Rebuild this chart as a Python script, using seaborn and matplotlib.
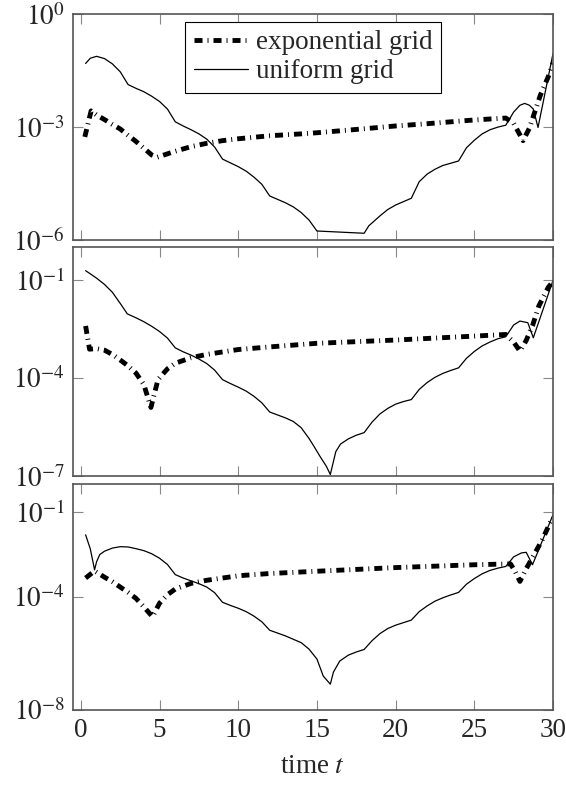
import numpy as np
import matplotlib
matplotlib.use("Agg")
import matplotlib.pyplot as plt
from matplotlib.ticker import NullLocator
import seaborn as sns

# error values, stored as log10 exponents
# top panel
t_exp_1 = [0.25, 0.65, 1.0, 1.5, 2.0, 2.5, 3.0, 3.5, 4.0, 4.5, 4.85, 5.5, 6.0, 7.0, 8.0, 9.0, 10.0,
           12.0, 14.0, 15.0, 17.0, 20.0, 22.0, 25.0, 27.0, 27.5, 28.1, 28.5, 29.2, 29.7, 30.0]
exp_1 = [-3.26, -2.57, -2.68, -2.80, -2.93, -3.05, -3.22, -3.38, -3.56, -3.74, -3.80, -3.71, -3.64,
         -3.52, -3.43, -3.36, -3.31, -3.23, -3.18, -3.15, -3.08, -2.97, -2.91, -2.81, -2.76, -2.90,
         -3.36, -3.03, -2.15, -1.66, -1.30]
t_uni_1 = [0.3, 0.6, 1.0, 1.5, 2.0, 2.5, 3.0, 3.5, 4.0, 4.5, 5.0, 5.5, 6.0, 6.5, 7.0, 7.5, 8.0, 8.5,
           9.0, 9.5, 10.0, 10.5, 11.0, 11.5, 12.0, 12.5, 13.0, 13.5, 14.0, 14.5, 15.0, 18.0, 18.3,
           18.6, 19.0, 19.5, 20.0, 20.5, 21.0, 21.5, 22.0, 22.5, 23.0, 23.5, 24.0, 24.5, 25.0, 25.5,
           26.0, 26.5, 27.0, 27.5, 27.9, 28.2, 28.5, 28.75, 29.05, 30.0]
uni_1 = [-1.31, -1.17, -1.12, -1.18, -1.32, -1.53, -1.87, -1.97, -2.06, -2.18, -2.32, -2.52, -2.86,
         -2.97, -3.07, -3.18, -3.32, -3.53, -3.85, -3.95, -4.05, -4.17, -4.33, -4.52, -4.83, -4.92,
         -5.01, -5.12, -5.27, -5.47, -5.76, -5.82, -5.62, -5.51, -5.36, -5.19, -5.07, -4.98, -4.89,
         -4.45, -4.25, -4.12, -4.02, -3.96, -3.90, -3.55, -3.35, -3.18, -3.07, -3.00, -2.95, -2.60,
         -2.42, -2.37, -2.42, -2.52, -3.01, -1.05]

# middle panel
t_exp_2 = [0.3, 0.55, 1.0, 1.5, 2.0, 2.5, 3.0, 3.5, 4.0, 4.45, 4.9, 5.5, 6.0, 7.0, 8.0, 10.0, 12.0,
           15.0, 20.0, 25.0, 27.0, 27.5, 27.9, 28.3, 28.7, 29.1, 29.7, 30.0]
exp_2 = [-2.41, -3.12, -3.10, -3.15, -3.28, -3.45, -3.63, -3.85, -4.20, -4.90, -4.05, -3.72, -3.55,
         -3.38, -3.28, -3.13, -3.05, -2.94, -2.84, -2.72, -2.67, -2.90, -3.18, -2.85, -2.40, -1.80,
         -1.23, -1.05]
t_uni_2 = [0.3, 0.7, 1.0, 1.5, 2.0, 2.5, 2.95, 3.5, 4.0, 4.5, 5.0, 5.5, 6.0, 6.5, 7.0, 7.5, 8.0, 8.5,
           9.0, 9.5, 10.0, 10.5, 11.0, 11.5, 12.0, 12.5, 13.0, 13.5, 14.0, 14.5, 14.8, 15.2, 15.6,
           15.85, 16.05, 16.2, 16.5, 17.0, 17.5, 18.0, 18.5, 19.0, 19.5, 20.0, 20.5, 21.0, 21.5, 22.0,
           22.5, 23.0, 23.5, 24.0, 24.5, 25.0, 25.5, 26.0, 26.5, 27.0, 27.5, 27.9, 28.4, 28.75, 30.0]
uni_2 = [-0.72, -0.85, -0.95, -1.14, -1.38, -1.72, -2.04, -2.16, -2.28, -2.42, -2.58, -2.78, -3.08,
         -3.20, -3.30, -3.42, -3.56, -3.76, -4.05, -4.17, -4.28, -4.40, -4.56, -4.76, -5.04, -5.13,
         -5.22, -5.33, -5.52, -5.85, -6.08, -6.40, -6.70, -6.95, -6.55, -6.25, -6.02, -5.86, -5.75,
         -5.67, -5.35, -5.10, -4.93, -4.80, -4.72, -4.66, -4.35, -4.14, -3.98, -3.86, -3.77, -3.69,
         -3.40, -3.19, -3.02, -2.90, -2.80, -2.74, -2.38, -2.26, -2.31, -2.77, -1.02]

# bottom panel
t_exp_3 = [0.3, 0.87, 1.5, 2.0, 2.5, 3.0, 3.5, 4.0, 4.55, 5.0, 5.5, 6.0, 7.0, 8.0, 10.0, 12.0, 15.0,
           20.0, 25.0, 27.3, 27.6, 27.9, 28.3, 28.8, 29.3, 29.8, 30.0]
exp_3 = [-3.33, -3.08, -3.30, -3.46, -3.65, -3.84, -4.05, -4.35, -4.70, -4.22, -3.92, -3.72, -3.52,
         -3.41, -3.25, -3.17, -3.09, -2.96, -2.86, -2.83, -3.10, -3.45, -3.00, -2.50, -2.00, -1.39,
         -1.20]
t_uni_3 = [0.3, 0.6, 0.87, 1.0, 1.2, 1.5, 2.0, 2.5, 3.0, 3.5, 4.0, 4.5, 5.0, 5.5, 6.0, 6.5, 7.0, 7.5,
           8.0, 8.5, 9.0, 9.5, 10.0, 10.5, 11.0, 11.5, 12.0, 12.5, 13.0, 13.5, 14.0, 14.5, 15.0, 15.4,
           15.85, 16.05, 16.45, 17.0, 17.5, 18.0, 18.5, 19.0, 19.5, 20.0, 20.5, 21.0, 21.5, 22.0, 22.5,
           23.0, 23.5, 24.0, 24.5, 25.0, 25.5, 26.0, 26.5, 27.0, 27.5, 28.0, 28.3, 28.7, 30.0]
uni_3 = [-1.80, -2.30, -3.04, -2.75, -2.50, -2.38, -2.27, -2.22, -2.23, -2.29, -2.36, -2.47, -2.63,
         -2.85, -3.21, -3.33, -3.43, -3.53, -3.65, -3.85, -4.19, -4.30, -4.40, -4.52, -4.68, -4.88,
         -5.18, -5.28, -5.38, -5.50, -5.62, -5.85, -6.20, -6.80, -7.09, -6.66, -6.27, -6.06, -5.95,
         -5.86, -5.55, -5.30, -5.12, -5.00, -4.91, -4.82, -4.52, -4.32, -4.15, -4.03, -3.93, -3.84,
         -3.55, -3.35, -3.18, -3.06, -2.98, -2.92, -2.58, -2.44, -2.42, -2.86, -1.09]

ytick_exps = [[0, -3, -6], [-1, -4, -7], [-1, -4, -8]]
ylim_exps = [(-6, 0), (-7, 0), (-8, 0)]
xticks = [0, 5, 10, 15, 20, 25, 30]
labels = ["exponential grid", "uniform grid"]

panels = [(t_exp_1, exp_1, t_uni_1, uni_1),
          (t_exp_2, exp_2, t_uni_2, uni_2),
          (t_exp_3, exp_3, t_uni_3, uni_3)]

sns.set_style("ticks")
plt.rcParams["font.family"] = ["Liberation Serif", "DejaVu Serif"]
plt.rcParams["mathtext.fontset"] = "stix"
plt.rcParams["font.size"] = 19.5

fig = plt.figure(figsize=(5.66, 7.87), dpi=100)
boxes = [[0.129, 0.695, 0.848, 0.287],
         [0.129, 0.395, 0.848, 0.291],
         [0.129, 0.098, 0.848, 0.287]]

dash_dot = (0, (1.65, 1.03, 0.2, 1.03))

for i, (te, ye, tu, yu) in enumerate(panels):
    ax = fig.add_axes(boxes[i])
    ax.set_yscale("log")
    sns.lineplot(x=te, y=10.0 ** np.array(ye), ax=ax, color="black", linewidth=3.5,
                 linestyle=dash_dot, dash_capstyle="butt", estimator=None, errorbar=None,
                 sort=False, label=labels[0] if i == 0 else None)
    sns.lineplot(x=tu, y=10.0 ** np.array(yu), ax=ax, color="black", linewidth=0.9,
                 estimator=None, errorbar=None, sort=False,
                 label=labels[1] if i == 0 else None)

    ax.set_xlim(-0.5, 30)
    ax.set_ylim(10.0 ** ylim_exps[i][0], 10.0 ** ylim_exps[i][1])
    ax.set_xticks(xticks)
    ax.set_yticks([10.0 ** e for e in ytick_exps[i]])
    ax.set_yticklabels([r"$10^{%d}$" % e for e in ytick_exps[i]])
    ax.yaxis.set_minor_locator(NullLocator())
    ax.tick_params(which="major", direction="in", top=True, right=True, length=7,
                   width=0.8, color="#888888", labelsize=19.5, pad=6)
    for s in ax.spines.values():
        s.set_color("#555555")
        s.set_linewidth(1.2)
    ax.set_ylabel("")
    ax.set_xlabel("")

    if i < 2:
        ax.tick_params(labelbottom=False)
    else:
        ax.set_xlabel("time $t$", fontsize=19.5, labelpad=8)

    if i == 0:
        leg = ax.legend(loc="upper center", bbox_to_anchor=(0.5, 1.0), fancybox=False,
                        edgecolor="black", framealpha=1, borderaxespad=0.3, fontsize=19.5,
                        handlelength=2.0, handletextpad=0.3, labelspacing=0.15, borderpad=0.3)
        leg.get_frame().set_linewidth(0.8)
    elif ax.get_legend() is not None:
        ax.get_legend().remove()

fig.savefig("out.png", dpi=100)
